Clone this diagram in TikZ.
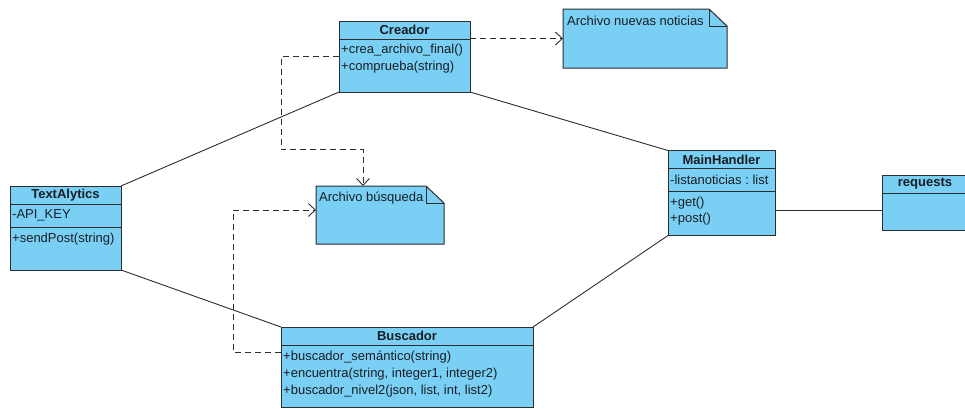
\documentclass[tikz,border=0pt]{standalone}
\usepackage{fontspec}
\setmainfont{Liberation Sans}
\usetikzlibrary{arrows.meta,calc}
\frenchspacing
\definecolor{classfill}{RGB}{122,207,245}
\definecolor{edge}{RGB}{45,45,45}
\definecolor{txt}{RGB}{25,30,35}
\tikzset{
  classbox/.style={draw=edge, fill=classfill, line width=1pt, inner sep=0pt, outer sep=0pt},
  notebox/.style={fill=none, draw=none, inner sep=0pt, outer sep=0pt},
  sepline/.style={draw=edge, line width=1pt},
  memb/.style={anchor=west, inner sep=0pt, font=\fontsize{13}{15}\selectfont, text=txt},
  headtext/.style={inner sep=0pt, font=\fontsize{13}{15}\selectfont\bfseries, text=txt},
  assoc/.style={draw=edge, line width=0.9pt},
  depend/.style={draw=edge, line width=0.9pt, dash pattern=on 6pt off 4pt,
    -{Straight Barb[length=7pt,width=13pt,line width=0.9pt]}},
}
\begin{document}
\begin{tikzpicture}[x=1pt,y=-1pt]
\useasboundingbox (0,0) rectangle (965,408);
\begin{scope}
\clip (0,0) rectangle (965,408);

% ---------- classes ----------
\node[classbox, minimum width=131pt, minimum height=71pt] (cr) at (404.5,56.5) {};
\draw[sepline] (cr.north west) ++(0,18) -- ++(131,0);
\node[headtext] at (404.5,30) {Creador};
\node[memb] at (341,50) {+crea\_archivo\_final()};
\node[memb] at (341,67) {+comprueba(string)};

\node[classbox, minimum width=111pt, minimum height=84pt] (ta) at (65.5,228) {};
\draw[sepline] (ta.north west) ++(0,18) -- ++(111,0);
\draw[sepline] (ta.north west) ++(0,41) -- ++(111,0);
\node[headtext] at (65.5,195) {TextAlytics};
\node[memb] at (12,215.5) {-API\_KEY};
\node[memb] at (12,239) {+sendPost(string)};

\node[classbox, minimum width=107pt, minimum height=85pt] (mh) at (721.5,193) {};
\draw[sepline] (mh.north west) ++(0,18) -- ++(107,0);
\draw[sepline] (mh.north west) ++(0,41) -- ++(107,0);
\node[headtext] at (721.5,159.5) {MainHandler};
\node[memb] at (670,180) {-listanoticias : list};
\node[memb] at (670,203) {+get()};
\node[memb] at (670,219) {+post()};

\node[classbox, minimum width=90pt, minimum height=55pt] (rq) at (927,202.5) {};
\draw[sepline] (rq.north west) ++(0,18) -- ++(90,0);
\node[headtext] at (925,184) {requests};

\node[classbox, minimum width=252pt, minimum height=80pt] (bu) at (407,367) {};
\draw[sepline] (bu.north west) ++(0,18) -- ++(252,0);
\node[headtext] at (407,336) {Buscador};
\node[memb] at (283,357) {+buscador\_semántico(string)};
\node[memb] at (283,374) {+encuentra(string, integer1, integer2)};
\node[memb] at (283,391) {+buscador\_nivel2(json, list, int, list2)};

% ---------- notes ----------
\node[notebox, minimum width=164pt, minimum height=59pt] (an) at (645,38.5) {};
\fill[classfill] (an.north west) -- ++(146,0) -- ++(18,17) |- (an.south west) -- cycle;
\draw[edge, line width=1pt] (an.north west) -- ++(146,0) -- ++(18,17) |- (an.south west) -- cycle;
\draw[edge, line width=0.8pt] (an.north east) ++(-18,0) -- ++(0,17) -- ++(18,0);
\node[memb] at (567,21) {Archivo nuevas noticias};

\node[notebox, minimum width=128pt, minimum height=58pt] (ab) at (380,215) {};
\fill[classfill] (ab.north west) -- ++(110,0) -- ++(18,17) |- (ab.south west) -- cycle;
\draw[edge, line width=1pt] (ab.north west) -- ++(110,0) -- ++(18,17) |- (ab.south west) -- cycle;
\draw[edge, line width=0.8pt] (ab.north east) ++(-18,0) -- ++(0,17) -- ++(18,0);
\node[memb] at (319,198) {Archivo búsqueda};

% ---------- associations ----------
\draw[assoc] (ta.north east) -- (cr.south west);
\draw[assoc] (cr.south east) -- (mh.north west);
\draw[assoc] (ta.south east) -- (bu.north west);
\draw[assoc] (bu.north east) -- (mh.south west);
\draw[assoc] (mh.east |- 0,210) -- (rq.west |- 0,210);

% ---------- dependencies ----------
\draw[depend] (cr.east |- an.west) -- (an.west);
\draw[depend] (cr.west) -- ++(-58,0) -- ++(0,93) -| ($(ab.north)+(-17,0)$);
\draw[depend] ($(bu.north west)+(0,25)$) -- ++(-48,0) |- ($(ab.west)+(0,-5)$);
\end{scope}
\end{tikzpicture}
\end{document}
